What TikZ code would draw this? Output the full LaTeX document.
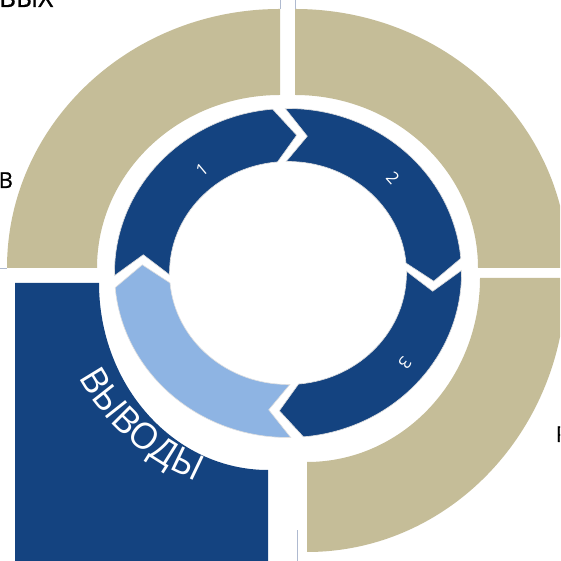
\documentclass[tikz,border=0pt]{standalone}
\usepackage{fontspec}
\setmainfont{Open Sans}
\newfontfamily\heavyfont{Open Sans}[FakeBold=0.8]
\usetikzlibrary{calc,decorations.text}
\definecolor{tanq}{RGB}{197,189,152}
\definecolor{dblue}{RGB}{20,67,128}
\definecolor{lblue}{RGB}{142,180,227}
\definecolor{guide}{RGB}{175,186,208}
\newcommand\ringseg[3]{%
  \pgfmathsetmacro\rsA{#2-2.1}%
  \pgfmathsetmacro\rsN{#2-8.5-2.1}%
  \pgfmathsetmacro\rsE{#3+2.1}%
  \pgfmathsetmacro\rsT{#3-8.5+2.1}%
  \filldraw[segstyle, fill=#1]
    ($(C)+(\rsA:173.5pt and 164.5pt)$) -- ($(C)+(\rsN:146pt and 138pt)$) -- ($(C)+(\rsA:118.5pt and 111.5pt)$)
    arc[start angle=\rsA, end angle=\rsE, x radius=118.5pt, y radius=111.5pt]
    -- ($(C)+(\rsT:146pt and 138pt)$) -- ($(C)+(\rsE:173.5pt and 164.5pt)$)
    arc[start angle=\rsE, end angle=\rsA, x radius=173.5pt, y radius=164.5pt] -- cycle;
}
\begin{document}
\begin{tikzpicture}[x=1pt,y=1pt,
  segstyle/.style={draw=black!12, line width=0.6pt},
  digit/.style={text=white, font=\fontsize{17pt}{17pt}\selectfont, inner sep=0pt},
  outword/.style={text=black, inner sep=0pt},
  guideline/.style={draw=guide, line width=0.5pt}]
\useasboundingbox (0,0) rectangle (560,561);
\fill[white] (0,0) rectangle (560,561);
\clip (0,0) rectangle (560,561);
\coordinate (C) at (288,288);
% tan quadrants
\fill[tanq] (7,293) arc[start angle=180, end angle=90, x radius=273pt, y radius=259pt]
  -- (280,466) arc[start angle=90, end angle=180, x radius=183pt, y radius=173pt] -- cycle;
\fill[tanq] (295,552) arc[start angle=90, end angle=0, x radius=273pt, y radius=259pt]
  -- (478,293) arc[start angle=0, end angle=90, x radius=183pt, y radius=173pt] -- cycle;
\fill[tanq] (566,283) arc[start angle=0, end angle=-90, x radius=259pt, y radius=274pt]
  -- (307,99) arc[start angle=-90, end angle=0, x radius=173pt, y radius=184pt] -- cycle;
% blue square
\fill[dblue] (15,278) -- (99,278) arc[start angle=180, end angle=270, x radius=169pt, y radius=187pt]
  -- (268,-5) -- (15,-5) -- cycle;
% guide hairlines
\draw[guideline] (280,552) -- (280,561);
\draw[guideline] (295,552) -- (295,561);
\draw[guideline] (0,293) -- (7,293);
\draw[guideline] (297,0) -- (297,31);
% inner ring
\ringseg{dblue}{183}{93}
\ringseg{dblue}{93}{3}
\ringseg{dblue}{3}{-87}
\ringseg{lblue}{273}{183}
% digits
\node[digit, rotate=40] (n1) at (202,391) {1};
\node[digit, rotate=-48] (n2) at (393,383) {2};
\node[digit, rotate=-127.6] (n3) at (405,198) {3};
% curved word
\path[decorate, decoration={text along path, text align=center, text color=white,
  text={|\fontsize{36pt}{36pt}\selectfont|ВЫВОДЫ}}]
  ($(C)+(191:236pt and 226pt)$) arc[start angle=191, end angle=263, x radius=236pt, y radius=226pt];
% cut-off words
\node[outword, anchor=base west, font=\heavyfont\fontsize{26pt}{26pt}\selectfont] (wtop) at (-1,554) {ВЫХ};
\node[outword, anchor=base west, font=\heavyfont\fontsize{22pt}{22pt}\selectfont] (wleft) at (-1.5,373) {В};
\node[outword, anchor=base west, font=\heavyfont\fontsize{22pt}{22pt}\selectfont] (wright) at (555.5,119) {Р};
\end{tikzpicture}
\end{document}
